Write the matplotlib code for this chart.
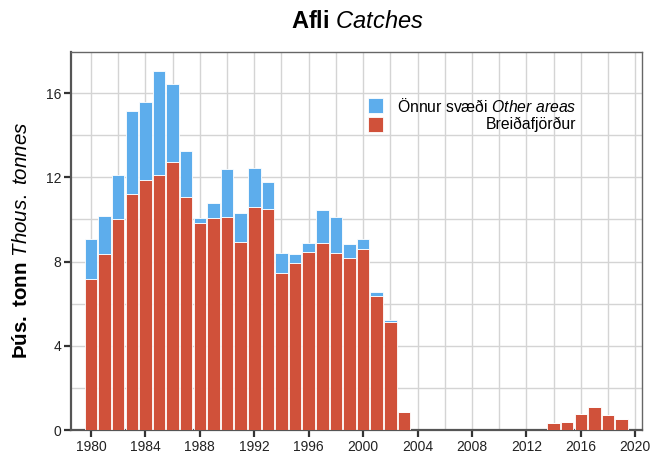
import matplotlib
matplotlib.use("Agg")
import matplotlib.pyplot as plt
from matplotlib.patches import Rectangle

plt.rcParams['font.family'] = ['Liberation Sans', 'DejaVu Sans']
plt.rcParams['mathtext.fontset'] = 'custom'
plt.rcParams['mathtext.rm'] = 'Liberation Sans'
plt.rcParams['mathtext.bf'] = 'Liberation Sans:bold'
plt.rcParams['mathtext.it'] = 'Liberation Sans:italic'

years = list(range(1980, 2020))
breidafjordur = [7.17, 8.34, 10.02, 11.22, 11.87, 12.11, 12.71, 11.08, 9.83, 10.05,
                 10.10, 8.93, 10.57, 10.51, 7.45, 7.93, 8.47, 8.88, 8.42, 8.15,
                 8.59, 6.38, 5.14, 0.84, 0, 0, 0, 0, 0, 0,
                 0, 0, 0, 0, 0.32, 0.38, 0.76, 1.09, 0.71, 0.51]
other_areas = [1.90, 1.84, 2.07, 3.94, 3.70, 4.92, 3.72, 2.18, 0.22, 0.71,
               2.28, 1.36, 1.86, 1.25, 0.95, 0.44, 0.41, 1.55, 1.69, 0.70,
               0.48, 0.16, 0.10, 0, 0, 0, 0, 0, 0, 0,
               0, 0, 0, 0, 0, 0, 0, 0, 0, 0]

red = '#d0513a'
blue = '#5dadec'

fig = plt.figure(figsize=(6.52, 4.55), dpi=100)
ax = fig.add_axes([71 / 652, 25 / 455, 571 / 652, 378 / 455])

ax.bar(years, breidafjordur, width=0.92, color=red, edgecolor='white', linewidth=0.6, zorder=3)
ax.bar(years, other_areas, bottom=breidafjordur, width=0.92, color=blue,
       edgecolor='white', linewidth=0.6, zorder=3)

ax.set_xlim(1978.53, 2020.5)
ax.set_ylim(0, 17.95)
ax.set_xticks(range(1980, 2021, 4))
ax.set_xticks(range(1980, 2021, 2), minor=True)
ax.set_yticks(range(0, 17, 4))
ax.set_yticks(range(0, 18, 2), minor=True)
ax.grid(True, which='both', color='#d4d4d4', linewidth=1.0, zorder=0)
ax.tick_params(which='major', direction='out', length=5, width=1.6, color='#333333',
               labelsize=10, labelcolor='#222222', pad=2)
ax.tick_params(which='minor', length=0)

for side in ['left', 'bottom']:
    ax.spines[side].set_color('#555555')
    ax.spines[side].set_linewidth(1.6)
for side in ['top', 'right']:
    ax.spines[side].set_color('#666666')
    ax.spines[side].set_linewidth(1.0)

fig.text(357 / 652, 1 - 22 / 455, r'$\bf{Afli}$ $\it{Catches}$', fontsize=17,
         ha='center', va='center')
fig.text(22 / 652, 1 - 240 / 455, r'$\bf{Þús.\ tonn}$ $\it{Thous.\ tonnes}$',
         rotation=90, fontsize=14.8, ha='center', va='center')

# legend
for (yc, col) in [(105.5, blue), (124.2, red)]:
    ax.add_patch(Rectangle((368 / 652, 1 - (yc + 7.5) / 455), 15 / 652, 15 / 455,
                           transform=fig.transFigure, facecolor=col, edgecolor='white',
                           linewidth=0.6, zorder=5, clip_on=False))
fig.text(576 / 652, 1 - 106 / 455, r'Önnur svæði $\it{Other\ areas}$', fontsize=11.3,
         ha='right', va='center')
fig.text(576 / 652, 1 - 124 / 455, 'Breiðafjörður', fontsize=11.3, ha='right', va='center')

fig.savefig('out.png', dpi=100)
